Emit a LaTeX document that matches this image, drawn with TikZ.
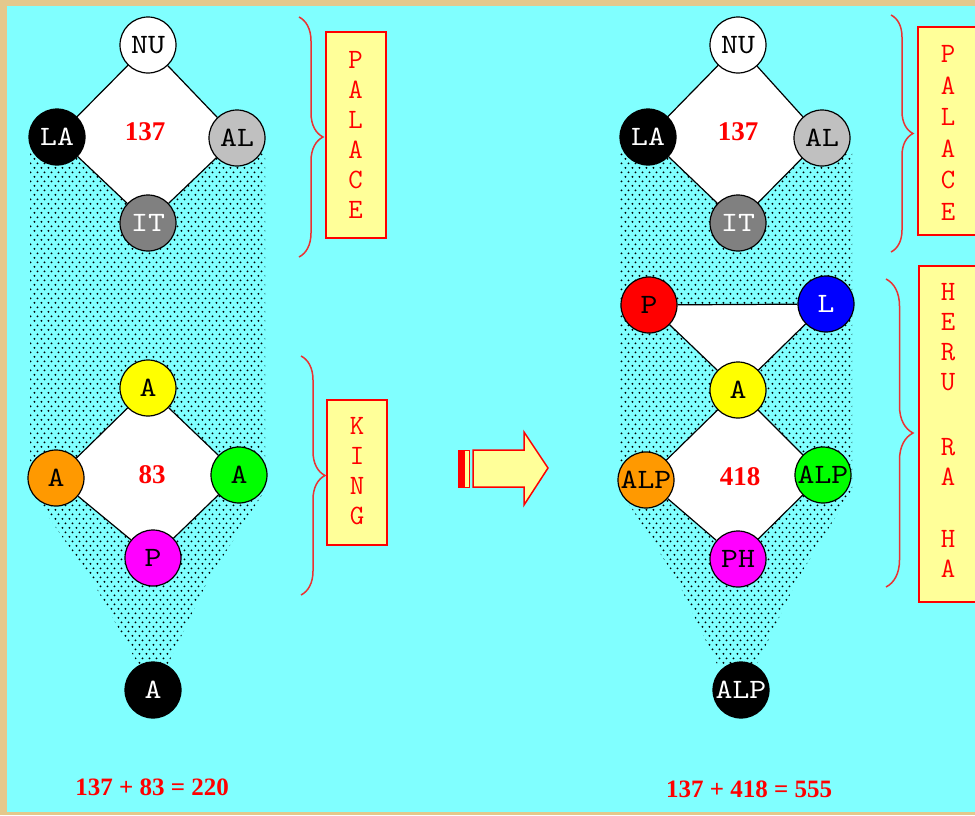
\documentclass[tikz,border=0pt]{standalone}
\usepackage{fontspec}
\setmainfont{Liberation Serif}
\newfontfamily\widemono[FakeStretch=1.15]{lmmono10-regular.otf}
\usetikzlibrary{decorations.pathreplacing,patterns}
\definecolor{bgcyan}{RGB}{128,255,255}
\definecolor{tanc}{RGB}{228,200,140}
\definecolor{paleyel}{RGB}{255,255,153}
\definecolor{silverc}{RGB}{192,192,192}
\definecolor{grayc}{RGB}{128,128,128}
\definecolor{orangec}{RGB}{255,153,0}
\definecolor{greenc}{RGB}{0,255,0}
\definecolor{magentac}{RGB}{255,0,255}
\definecolor{redc}{RGB}{255,0,0}
\definecolor{bluec}{RGB}{0,0,255}
\definecolor{yellowc}{RGB}{255,255,0}
\definecolor{bracered}{RGB}{235,50,50}
\pgfdeclarepatternformonly{mydots}{\pgfpointorigin}{\pgfpoint{6.5pt}{9.4pt}}{\pgfpoint{6.5pt}{9.4pt}}{%
  \pgfpathcircle{\pgfpoint{1.6pt}{2.35pt}}{1.1pt}%
  \pgfpathcircle{\pgfpoint{4.85pt}{7.05pt}}{1.1pt}%
  \pgfusepath{fill}}
\tikzset{
  ball/.style={circle, draw=black, line width=1.2pt, minimum size=56pt, inner sep=0pt,
    font=\widemono\fontsize{28}{28}\selectfont},
  link/.style={draw=black, line width=1.2pt},
  wordbox/.style={draw=redc, line width=2pt, fill=paleyel, inner sep=0pt},
  wordtext/.style={text=redc, align=center, inner sep=0pt, font=\ttfamily\fontsize{28}{30}\selectfont},
  brc/.style={draw=bracered, line width=1.5pt, decorate, decoration={brace, amplitude=#1}},
  num/.style={text=redc, inner sep=0pt, font=\bfseries\fontsize{27}{27}\selectfont},
  sumtext/.style={text=redc, inner sep=0pt, font=\bfseries\fontsize{25}{25}\selectfont},
  shadow/.style={pattern=mydots, pattern color=black}
}
\begin{document}
\begin{tikzpicture}[x=1pt,y=-1pt]
\useasboundingbox (0,0) rectangle (975,815);
\fill[tanc] (0,0) rectangle (975,815);
\fill[bgcyan] (7,6) rectangle (975,812);

% ---------- shaded regions ----------
\fill[shadow] (30,152) -- (265,152) -- (265,490) -- (208,580) -- (168,664) -- (138,664) -- (92,580) -- (30,490) -- cycle;
\fill[shadow] (620,152) -- (852,152) -- (852,490) -- (797,580) -- (757,664) -- (717,664) -- (677,580) -- (620,490) -- cycle;

% ---------- left diagram ----------
\coordinate (pNU) at (148,45);
\coordinate (pLA) at (57,137);
\coordinate (pAL) at (237,138);
\coordinate (pIT) at (148,223);
\coordinate (pA1) at (148,388);
\coordinate (pA2) at (56,478);
\coordinate (pA3) at (239,475);
\coordinate (pP)  at (153,558);
\coordinate (pA4) at (153,690);

\fill[white] (pNU) -- (pAL) -- (pIT) -- (pLA) -- cycle;
\fill[white] (pA1) -- (pA3) -- (pP) -- (pA2) -- cycle;

\node[ball, fill=white] (nu) at (pNU) {NU};
\node[ball, fill=black, text=white] (la) at (pLA) {LA};
\node[ball, fill=silverc] (al) at (pAL) {AL};
\node[ball, fill=grayc, text=white] (it) at (pIT) {IT};
\node[ball, fill=yellowc] (a1) at (pA1) {A};
\node[ball, fill=orangec] (a2) at (pA2) {A};
\node[ball, fill=greenc] (a3) at (pA3) {A};
\node[ball, fill=magentac] (p) at (pP) {P};
\node[ball, fill=black, text=white] (a4) at (pA4) {A};

\draw[link] (nu) -- (al);
\draw[link] (al) -- (it);
\draw[link] (it) -- (la);
\draw[link] (la) -- (nu);
\draw[link] (a1) -- (a3);
\draw[link] (a3) -- (p);
\draw[link] (p) -- (a2);
\draw[link] (a2) -- (a1);

\node[num] (n137a) at (145,132) {137};
\node[num] (n83) at (152,475) {83};

% braces and boxes (left)
\draw[brc=24pt] (299,17) -- (299,257);
\node[wordbox, minimum width=60pt, minimum height=206pt] (box1) at (355.5,135) {};
\node[wordtext] (t1) at (355.5,135) {P\\A\\L\\A\\C\\E};
\draw[brc=24pt] (301,356) -- (301,595);
\node[wordbox, minimum width=60pt, minimum height=145pt] (box2) at (357,472.5) {};
\node[wordtext] (t2) at (357,471) {K\\I\\N\\G};

% ---------- arrow ----------
\filldraw[fill=redc, draw=redc, line width=1pt] (458,450) rectangle (464,487);
\filldraw[fill=paleyel, draw=redc, line width=1pt] (464,450) rectangle (469,487);
\filldraw[fill=paleyel, draw=redc, line width=1.5pt] (473,450) -- (524,450) -- (524,432) -- (548,468) -- (524,505) -- (524,487) -- (473,487) -- cycle;

% ---------- right diagram ----------
\coordinate (qNU) at (738,45);
\coordinate (qLA) at (648,137);
\coordinate (qAL) at (822,138);
\coordinate (qIT) at (738,223);
\coordinate (qP)  at (649,305);
\coordinate (qL)  at (826,304);
\coordinate (qA)  at (738,390);
\coordinate (qAL1) at (646,480);
\coordinate (qAL2) at (823,475);
\coordinate (qPH) at (738,559);
\coordinate (qALP) at (741,690);

\fill[white] (qNU) -- (qAL) -- (qIT) -- (qLA) -- cycle;
\fill[white] (qP) -- (qL) -- (qA) -- cycle;
\fill[white] (qA) -- (qAL2) -- (qPH) -- (qAL1) -- cycle;

\node[ball, fill=white] (nu2) at (qNU) {NU};
\node[ball, fill=black, text=white] (la2) at (qLA) {LA};
\node[ball, fill=silverc] (al2) at (qAL) {AL};
\node[ball, fill=grayc, text=white] (it2) at (qIT) {IT};
\node[ball, fill=redc] (p2) at (qP) {P};
\node[ball, fill=bluec, text=white] (l2) at (qL) {L};
\node[ball, fill=yellowc] (a2y) at (qA) {A};
\node[ball, fill=orangec] (alp1) at (qAL1) {ALP};
\node[ball, fill=greenc] (alp2) at (qAL2) {ALP};
\node[ball, fill=magentac] (ph) at (qPH) {PH};
\node[ball, fill=black, text=white] (alp3) at (qALP) {ALP};

\draw[link] (nu2) -- (al2);
\draw[link] (al2) -- (it2);
\draw[link] (it2) -- (la2);
\draw[link] (la2) -- (nu2);
\draw[link] (p2) -- (l2);
\draw[link] (l2) -- (a2y);
\draw[link] (a2y) -- (p2);
\draw[link] (a2y) -- (alp2);
\draw[link] (alp2) -- (ph);
\draw[link] (ph) -- (alp1);
\draw[link] (alp1) -- (a2y);

\node[num] (n137b) at (738,132) {137};
\node[num] (n418) at (740,477) {418};

% braces and boxes (right)
\draw[brc=22pt] (891,15) -- (891,252);
\node[wordbox, minimum width=62pt, minimum height=208pt] (box3) at (949,131) {};
\node[wordtext, font=\ttfamily\fontsize{28}{31.6}\selectfont] (t3) at (948,133) {P\\A\\L\\A\\C\\E};
\draw[brc=27pt] (886,279) -- (886,587);
\node[wordbox, minimum width=60pt, minimum height=336pt] (box4) at (949,434) {};
\node[wordtext] (t4) at (948,430.5) {H\\E\\R\\U\\[35pt]R\\A\\[32pt]H\\A};

% ---------- sums ----------
\node[sumtext] (s1) at (152,787) {137 + 83 = 220};
\node[sumtext] (s2) at (749,789) {137 + 418 = 555};
\end{tikzpicture}
\end{document}
